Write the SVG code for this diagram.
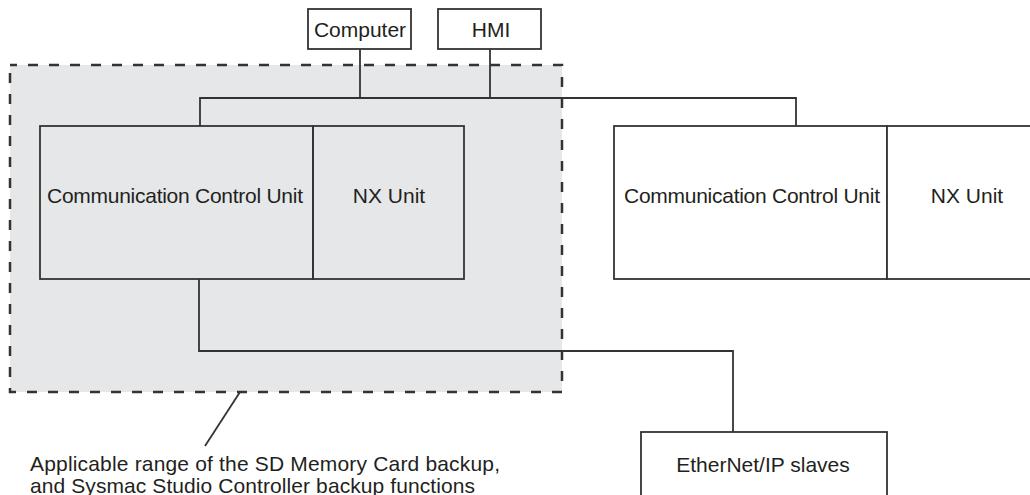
<svg xmlns="http://www.w3.org/2000/svg" width="1030" height="495" viewBox="0 0 1030 495">
<style>
.box{fill:#ffffff;stroke:#333333;stroke-width:1.8}
.unit{fill:none;stroke:#333333;stroke-width:1.8}
.wire{fill:none;stroke:#333333;stroke-width:1.8}
.lbl{font-family:"Liberation Sans",Arial,sans-serif;font-size:21px;fill:#231f20;text-anchor:middle}
.note{font-family:"Liberation Sans",Arial,sans-serif;font-size:21px;fill:#231f20}
</style>
<rect width="1030" height="495" fill="#ffffff"/>
<g id="backup-range">
<rect x="10" y="65" width="552" height="327" fill="#e6e7e9" stroke="#333333" stroke-width="2.5" stroke-dasharray="10 11" stroke-dashoffset="3"/>
</g>
<g id="connectors">
<polyline class="wire" points="360,49 360,98"/>
<polyline class="wire" points="490,49 490,98"/>
<polyline class="wire" points="200,126 200,98 796,98 796,126"/>
<polyline class="wire" points="199,279 199,351 733,351 733,432"/>
<line class="wire" x1="240" y1="392" x2="205" y2="446"/>
</g>
<g id="computer">
<rect class="box" x="308" y="9" width="103" height="40"/>
<text class="lbl" x="360" y="37">Computer</text>
</g>
<g id="hmi">
<rect class="box" x="438" y="9" width="103" height="40"/>
<text class="lbl" x="491" y="37">HMI</text>
</g>
<g id="ccu-left">
<rect class="unit" x="40" y="126" width="273" height="153"/>
<text class="lbl" x="175" y="203" textLength="256">Communication Control Unit</text>
</g>
<g id="nx-left">
<rect class="unit" x="313" y="126" width="151" height="153"/>
<text class="lbl" x="389" y="203">NX Unit</text>
</g>
<g id="ccu-right">
<rect class="box" x="614" y="126" width="273" height="153"/>
<text class="lbl" x="752" y="203" textLength="256">Communication Control Unit</text>
</g>
<g id="nx-right">
<rect class="box" x="887" y="126" width="160" height="153"/>
<text class="lbl" x="967" y="203">NX Unit</text>
</g>
<g id="ethernet-slaves">
<rect class="box" x="641" y="432" width="246" height="75"/>
<text class="lbl" x="763" y="472">EtherNet/IP slaves</text>
</g>
<g id="note">
<text class="note" x="30" y="471" textLength="470">Applicable range of the SD Memory Card backup,</text>
<text class="note" x="30" y="493" textLength="445">and Sysmac Studio Controller backup functions</text>
</g>
</svg>
